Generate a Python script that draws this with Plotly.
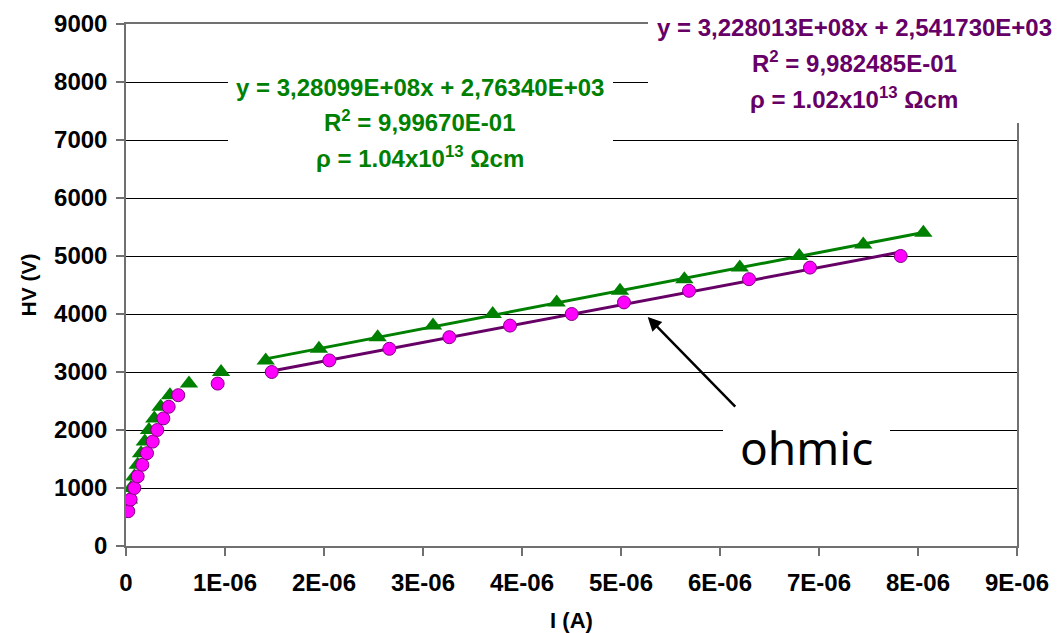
import numpy as np
import plotly.graph_objects as go

# Current (A, in units of 1e-6) and high voltage (V) for the two samples
current_a_uA = [0.03, 0.05, 0.084, 0.118, 0.152, 0.19, 0.232, 0.286, 0.35, 0.444,
                0.636, 0.96, 1.411, 1.949, 2.542, 3.101, 3.704, 4.35, 4.99, 5.64,
                6.2, 6.8, 7.447, 8.054]
hv_a = [800, 1000, 1200, 1400, 1600, 1800, 2000, 2200, 2400, 2600, 2800, 3000,
        3200, 3400, 3600, 3800, 4000, 4200, 4400, 4600, 4800, 5000, 5200, 5400]

current_b_uA = [0.023, 0.047, 0.084, 0.118, 0.165, 0.212, 0.27, 0.316, 0.377, 0.431,
                0.528, 0.926, 1.472, 2.054, 2.66, 3.266, 3.879, 4.502, 5.03, 5.687,
                6.293, 6.909, 7.825]
hv_b = [600, 800, 1000, 1200, 1400, 1600, 1800, 2000, 2200, 2400, 2600, 2800,
        3000, 3200, 3400, 3600, 3800, 4000, 4200, 4400, 4600, 4800, 5000]

# Linear (ohmic) fits: slope (V/A) and intercept (V)
fit_a_slope, fit_a_icpt = 3.28099e8, 2.76340e3
fit_b_slope, fit_b_icpt = 3.228013e8, 2.541730e3
fit_a_from_v = 3200   # first point of sample A used in the fit
fit_b_from_v = 3000   # first point of sample B used in the fit

x_ticks = [0, 1e-6, 2e-6, 3e-6, 4e-6, 5e-6, 6e-6, 7e-6, 8e-6, 9e-6]
x_tick_text = ["0", "1E-06", "2E-06", "3E-06", "4E-06", "5E-06",
               "6E-06", "7E-06", "8E-06", "9E-06"]
y_ticks = list(range(0, 9001, 1000))

GREEN = "#008000"
PURPLE = "#660066"
MAGENTA = "#FF00FF"
FONT = "Liberation Sans, Arial, sans-serif"

xa = np.array(current_a_uA) * 1e-6
xb = np.array(current_b_uA) * 1e-6
va = np.array(hv_a)
vb = np.array(hv_b)

sel_a = va >= fit_a_from_v
sel_b = vb >= fit_b_from_v
line_a_x = np.array([xa[sel_a].min(), xa[sel_a].max()])
line_b_x = np.array([xb[sel_b].min(), xb[sel_b].max()])

fig = go.Figure()
fig.add_trace(go.Scatter(x=line_a_x, y=fit_a_slope * line_a_x + fit_a_icpt,
                         mode="lines", line=dict(color=GREEN, width=3),
                         hoverinfo="skip"))
fig.add_trace(go.Scatter(x=line_b_x, y=fit_b_slope * line_b_x + fit_b_icpt,
                         mode="lines", line=dict(color=PURPLE, width=3),
                         hoverinfo="skip"))
fig.add_trace(go.Scatter(x=xa, y=va, mode="markers",
                         marker=dict(symbol="triangle-up", size=16, color=GREEN,
                                     line=dict(width=0))))
fig.add_trace(go.Scatter(x=xb, y=vb, mode="markers",
                         marker=dict(symbol="circle", size=13, color=MAGENTA,
                                     line=dict(color="#800080", width=1))))

# plot-area geometry in pixels
W, H = 1061, 633
L, R, T, B = 126, 1017, 24, 546


def px(xp):
    return (xp - L) / (R - L)


def py(yp):
    return (B - yp) / (B - T)


def box(x0, y0, x1, y1):
    fig.add_shape(type="rect", xref="paper", yref="paper",
                  x0=px(x0), x1=px(x1), y0=py(y1), y1=py(y0),
                  fillcolor="white", line=dict(width=0), layer="above")


def label(text, xp, yp, color, size=24, family=FONT):
    fig.add_annotation(text=text, xref="paper", yref="paper",
                       x=px(xp), y=py(yp), xanchor="center", yanchor="middle",
                       showarrow=False, font=dict(family=family, size=size,
                                                  color=color))


box(228, 62, 613, 178)
box(648, -5, 1070, 123)
box(723, 410, 890, 475)

label("<b>y = 3,28099E+08x + 2,76340E+03</b>", 420, 87, GREEN)
label("<b>R<sup>2</sup> = 9,99670E-01</b>", 420, 121, GREEN)
label("<b>ρ = 1.04x10<sup>13</sup> Ωcm</b>", 420, 157, GREEN)

label("<b>y = 3,228013E+08x + 2,541730E+03</b>", 854, 28, PURPLE)
label("<b>R<sup>2</sup> = 9,982485E-01</b>", 854, 62, PURPLE)
label("<b>ρ = 1.02x10<sup>13</sup> Ωcm</b>", 854, 98, PURPLE)

label("ohmic", 806, 447, "black", size=46,
      family="Comic Sans MS, Noto Sans, sans-serif")

# arrow pointing at the ohmic region
fig.add_annotation(x=5.27e-6, y=3948, xref="x", yref="y", text="",
                   showarrow=True, ax=89, ay=91, arrowhead=2, arrowsize=1.1,
                   arrowwidth=2.5, arrowcolor="black")

axis_common = dict(showline=True, linecolor="#707070", linewidth=1.5,
                   mirror=True, ticks="outside", ticklen=8, tickcolor="#707070",
                   tickwidth=1.5, zeroline=False, automargin=False,
                   tickfont=dict(family=FONT, size=24, color="black",
                                 weight="bold"))

fig.update_xaxes(range=[0, 9e-6], tickvals=x_ticks, ticktext=x_tick_text,
                 showgrid=False, ticklabelstandoff=6,
                 title=dict(text="<b>I (A)</b>", standoff=20,
                            font=dict(family=FONT, size=22, color="black")),
                 **axis_common)
fig.update_yaxes(range=[0, 9000], tickvals=y_ticks, showgrid=True,
                 gridcolor="black", gridwidth=1, ticklabelstandoff=4,
                 title=dict(text="<b>HV (V)</b>", standoff=12,
                            font=dict(family=FONT, size=21, color="black")),
                 **axis_common)

fig.update_layout(width=W, height=H, showlegend=False,
                  paper_bgcolor="white", plot_bgcolor="white",
                  margin=dict(l=L, r=W - R, t=T, b=H - B))

fig.write_html("out.html")
